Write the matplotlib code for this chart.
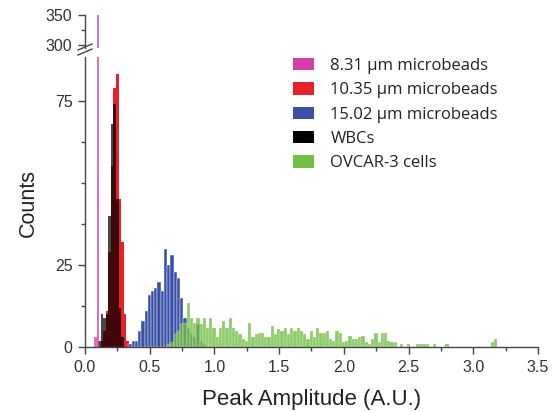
import matplotlib
matplotlib.use("Agg")
import matplotlib.pyplot as plt
from matplotlib.patches import Patch
from matplotlib.lines import Line2D
import numpy as np

# ---------------- data ----------------
labels = ["8.31 µm microbeads", "10.35 µm microbeads", "15.02 µm microbeads",
          "WBCs", "OVCAR-3 cells"]
colors = ["#d63fa8", "#e8202a", "#3a4fa8", "#000000", "#72c043"]

purple_start, purple_width = 0.072, 0.012
purple_counts = [3, 3, 350]

red_start, red_width = 0.12, 0.02
red_counts = [2, 5, 11, 29, 55, 79, 83, 45, 32, 10, 2]

black_start, black_width = 0.10, 0.02
black_counts = [2, 10, 9, 10, 40, 68, 74, 45, 12, 3]

blue_start, blue_width = 0.335, 0.025
blue_counts = [1, 2, 2, 5, 8, 11, 16, 17, 18, 20, 17, 30, 25, 28, 23, 21,
               15, 9, 6, 4, 3, 7, 2, 1]

green_start, green_width = 0.635, 0.025
green_counts = [1, 1.5, 4, 5, 7, 7.5, 13.5, 9, 7.5, 9, 7, 9, 6, 9, 6, 3,
                6, 8, 6, 9, 6, 5, 4, 2.5, 2, 7.5, 3, 4, 4.5, 4.5, 3, 3,
                6.5, 4, 5.5, 5, 6, 4, 6, 5, 6, 5, 4, 2.5, 5, 3, 6, 4.5,
                4.5, 5, 2.5, 2, 5, 4.5, 1.5, 2, 3.5, 2.5, 2.5, 3, 3.3, 1.5,
                1, 2.5, 4.3, 1.5, 4.3, 4.3, 2, 1.5, 1.5, 0, 1, 0, 1, 0,
                0, 1, 1, 1, 1, 0, 1, 0, 0, 0, 1, 0, 0, 0, 0, 0,
                0, 0, 0, 0, 0, 0, 0, 0, 1.5, 2.5]

x_ticks = [0.0, 0.5, 1.0, 1.5, 2.0, 2.5, 3.0, 3.5]
low_yticks = [0, 25, 75]
high_yticks = [300, 350]

# ---------------- figure ----------------
W, H = 558, 412
plt.rcParams['font.family'] = ['Liberation Sans', 'DejaVu Sans']
fig = plt.figure(figsize=(W / 100, H / 100), dpi=100)
txt = "#333333"

def fx(px):
    return px / W

def fy(py):
    return 1 - py / H

x0, x1 = 85, 538
ax = fig.add_axes([fx(x0), fy(347.3), fx(x1 - x0), fy(57) - fy(347.3)])
axt = fig.add_axes([fx(x0), fy(47.5), fx(x1 - x0), fy(15) - fy(47.5)], sharex=ax)

def draw(a):
    series = [
        (red_start, red_width, red_counts, colors[1], 1.0, 0),
        (black_start, black_width, black_counts, colors[3], 0.72, 0),
        (purple_start, purple_width, purple_counts, colors[0], 0.75, 0),
        (blue_start, blue_width, blue_counts, colors[2], 1.0, 0.3),
        (green_start, green_width, green_counts, colors[4], 0.8, 0.2),
    ]
    for start, width, counts, c, alpha, lw in series:
        xs = start + width * np.arange(len(counts))
        a.bar(xs, counts, width=width, align='edge', color=c, alpha=alpha,
              edgecolor='white', linewidth=lw)

draw(ax)
draw(axt)

ax.set_xlim(0, 3.5)
ax.set_ylim(0, 88.3)
axt.set_ylim(295, 350)

for a in (ax, axt):
    a.spines['top'].set_visible(False)
    a.spines['right'].set_visible(False)
    for s in a.spines.values():
        s.set_color("#444444")
        s.set_linewidth(1.0)
axt.spines['bottom'].set_visible(False)
axt.tick_params(axis='x', which='both', bottom=False, labelbottom=False)

ax.set_xticks(x_ticks)
ax.set_xticklabels([f"{v:.1f}" for v in x_ticks])
ax.set_xticks(np.arange(0.25, 3.5, 0.5), minor=True)
ax.set_yticks(low_yticks)
ax.set_yticklabels([str(v) for v in low_yticks])
ax.set_yticks([12.5, 37.5, 50, 62.5], minor=True)
axt.set_yticks(high_yticks)
axt.set_yticks([325], minor=True)

for a in (ax, axt):
    a.tick_params(axis='both', which='major', direction='out', length=5,
                  width=1, color="#444444", labelsize=11.5, labelcolor=txt,
                  pad=4)
    a.tick_params(axis='both', which='minor', direction='out', length=3,
                  width=1, color="#444444")

ax.set_xlabel("Peak Amplitude (A.U.)", fontsize=16, color="#222222", labelpad=10)
fig.text(fx(28), fy(203), "Counts", rotation=90, fontsize=15.5,
         color="#222222", ha='center', va='center')

# break marks
for dy in (0, 5):
    fig.add_artist(Line2D([fx(78), fx(92)], [fy(55 - dy), fy(49 - dy)],
                          transform=fig.transFigure, color="#444444", lw=1.0))

handles = [Patch(facecolor=c, edgecolor='none') for c in colors]
leg = fig.legend(handles, labels, loc='upper left',
                 bbox_to_anchor=(fx(293), fy(58)), frameon=False,
                 prop={'family': 'Open Sans', 'size': 12},
                 handlelength=1.25, handleheight=0.75, handletextpad=1.0,
                 labelspacing=0.5, borderaxespad=0, borderpad=0)
for t in leg.get_texts():
    t.set_color("#222222")

fig.savefig("out.png", dpi=100)
